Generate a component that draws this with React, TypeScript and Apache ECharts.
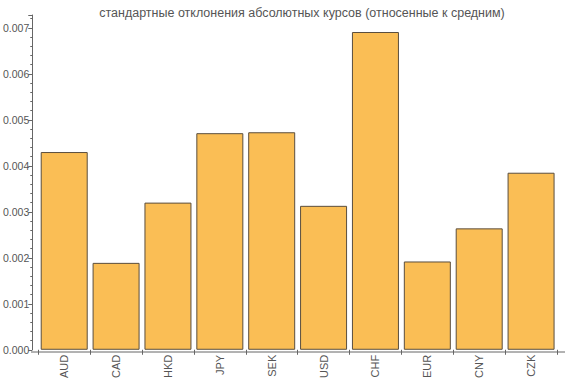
import React, { useEffect, useRef } from "react";
import * as echarts from "echarts";

const categories = ["AUD", "CAD", "HKD", "JPY", "SEK", "USD", "CHF", "EUR", "CNY", "CZK"];
const values = [0.0043, 0.00189, 0.0032, 0.00471, 0.00473, 0.00313, 0.00691, 0.00192, 0.00264, 0.00385];
const titleText = "стандартные отклонения абсолютных курсов (относенные к средним)";

export default function App() {
  const ref = useRef<HTMLDivElement>(null);
  useEffect(() => {
    const chart = echarts.init(ref.current!, null, { renderer: "svg" });
    const gray = "#666";
    chart.setOption({
      animation: false,
      title: {
        text: titleText,
        left: 297,
        top: 1,
        textAlign: "center",
        textStyle: { fontFamily: "Liberation Sans, Arial, sans-serif", fontSize: 12.5, fontWeight: "normal", color: "#555" },
      },
      grid: { left: 37, right: 19, top: 15, bottom: 29 },
      xAxis: {
        type: "category",
        data: categories,
        axisLine: { show: false },
        axisTick: { show: true, alignWithLabel: false, length: 5, lineStyle: { color: gray } },
        axisLabel: {
          rotate: 90,
          margin: 5,
          color: "#555",
          fontSize: 11,
          fontFamily: "Liberation Sans, Arial, sans-serif",
        },
      },
      yAxis: {
        type: "value",
        min: 0,
        max: 0.00728,
        interval: 0.001,
        offset: 6,
        splitLine: { show: false },
        axisLine: { show: true, lineStyle: { color: gray } },
        axisTick: { show: true, length: 4, lineStyle: { color: gray } },
        minorTick: { show: true, splitNumber: 5, length: 2, lineStyle: { color: gray } },
        axisLabel: {
          color: "#555",
          fontSize: 10.5,
          margin: 3,
          showMaxLabel: false,
          fontFamily: "Liberation Sans, Arial, sans-serif",
          formatter: (v: number) => v.toFixed(3),
        },
      },
      graphic: [
        {
          type: "line",
          shape: { x1: 31, y1: 352, x2: 565, y2: 352 },
          style: { stroke: gray, lineWidth: 1 },
          silent: true,
        },
      ],
      series: [
        {
          type: "bar",
          data: values,
          barWidth: 47,
          itemStyle: { color: "#FABE55", borderColor: "#5a4e3e", borderWidth: 1 },
        },
      ],
    });
    return () => chart.dispose();
  }, []);
  return <div ref={ref} style={{ width: 576, height: 381, position: "absolute", left: 0, top: 0 }} />;
}
